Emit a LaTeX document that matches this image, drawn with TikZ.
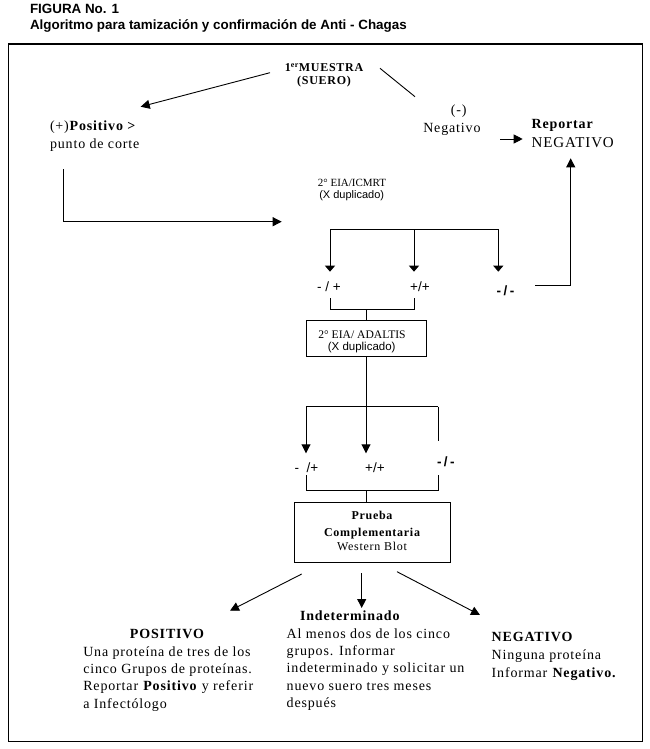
\documentclass[tikz,border=0pt]{standalone}
\usepackage{fontspec}
\setmainfont[LetterSpace=6]{Liberation Serif}
\setsansfont{Liberation Sans}
\newfontfamily\plainserif{Liberation Serif}
\newfontfamily\widesans[LetterSpace=18]{Liberation Sans}
\usetikzlibrary{arrows.meta}
\begin{document}
\begin{tikzpicture}[x=1pt,y=-1pt,
  every node/.style={inner sep=0pt, outer sep=0pt},
  body/.style={font=\fontsize{14}{17.4}\selectfont},
  bodyb/.style={font=\fontsize{14}{17.4}\selectfont\bfseries},
  ttl/.style={font=\sffamily\bfseries\fontsize{13.4}{16}\selectfont},
  smallsans/.style={font=\sffamily\fontsize{11}{13}\selectfont},
  sign/.style={font=\sffamily\fontsize{13.5}{15}\selectfont},
  signb/.style={font=\widesans\bfseries\fontsize{13.5}{15}\selectfont},
  conn/.style={line width=0.9pt},
  arr/.style={line width=0.9pt,-{Triangle[length=9pt,width=9pt]}},
  arrs/.style={line width=0.9pt,-{Triangle[length=6pt,width=10pt]}},
  boxst/.style={draw,line width=0.9pt}
]
\useasboundingbox (0,0) rectangle (649,749);
% title
\node[ttl,anchor=base west] (t1) at (30,13.3) {FIGURA No. 1};
\node[ttl,anchor=base west] (t2) at (30,29.3) {Algoritmo para tamización y confirmación de Anti - Chagas};
% frame
\draw[line width=1.3pt] (8.5,44) rectangle (642.5,741.5);

% first sample
\node[font=\fontsize{12}{12.6}\selectfont\bfseries,anchor=base] (m1) at (324,71.7) {1\textsuperscript{er}MUESTRA};
\node[font=\fontsize{12}{12.6}\selectfont\bfseries,anchor=base] (m2) at (324,84.3) {(SUERO)};
\coordinate (m1a) at (270,72.7);
\coordinate (posa) at (140.7,106.7);
\draw[arr] (m1a) -- (posa);
\coordinate (m1b) at (380,68.3);
\coordinate (nega) at (415,96.7);
\draw[conn] (m1b) -- (nega);

% positive
\node[body,anchor=base west] (pos1) at (50,130.7) {(+)\textbf{Positivo >}};
\node[body,anchor=base west] (pos2) at (50,148) {punto de corte};
% negative
\node[body,anchor=base] (neg1) at (458.7,114) {(-)};
\node[body,anchor=base west] (neg2) at (423.3,132.7) {Negativo};
\coordinate (nego) at (500,139);
\coordinate (repi) at (522.7,139);
\draw[arr] (nego) -- (repi);
\node[bodyb,anchor=base west] (rep1) at (531.7,128.3) {Reportar};
\node[font=\fontsize{15}{17}\selectfont,anchor=base west] (rep2) at (531.7,147.3) {NEGATIVO};

% path to second test
\coordinate (p1) at (63.3,169);
\coordinate (p2) at (63.3,221.7);
\coordinate (p3) at (281.7,221.7);
\draw[conn] (p1) -- (p2);
\draw[arr] (p2) -- (p3);
\node[font=\plainserif\fontsize{11}{12}\selectfont,anchor=base] (e1) at (352,186.7) {2° EIA/ICMRT};
\node[smallsans,anchor=base] (e2) at (351.7,198.3) {(X duplicado)};

% first tree
\coordinate (a0) at (330,229.3);
\coordinate (a1) at (414,229.3);
\coordinate (a2) at (498.3,229.3);
\coordinate (a0e) at (330,271.7);
\coordinate (a1e) at (414,271.7);
\coordinate (a2e) at (498.3,271.7);
\draw[conn] (a0) -- (a2);
\draw[arrs] (a0) -- (a0e);
\draw[arrs] (a1) -- (a1e);
\draw[arrs] (a2) -- (a2e);
\node[sign] (s1) at (329,287) {- / +};
\node[sign] (s2) at (420,287) {+/+};
\node[signb] (s3) at (505.5,290.7) {-/-};
\coordinate (r0) at (535,285);
\coordinate (r1) at (570.7,285);
\coordinate (r2) at (570.7,158.3);
\draw[conn] (r0) -- (r1);
\draw[arr] (r1) -- (r2);

% bracket 1
\coordinate (b0) at (330,298);
\coordinate (b1) at (330,309.3);
\coordinate (b2) at (414,309.3);
\coordinate (b3) at (414,298);
\coordinate (bm) at (366,309.3);
\draw[conn] (b0) -- (b1) -- (b2) -- (b3);
\node[boxst,minimum width=120pt,minimum height=36pt] (box1) at (366,338.7) {};
\draw[conn] (bm) -- (box1.north);
\node[font=\plainserif\fontsize{11.6}{12}\selectfont,anchor=base] (bx1a) at (362,338) {2° EIA/ ADALTIS};
\node[font=\sffamily\fontsize{11.5}{13}\selectfont,anchor=base] (bx1b) at (361.7,350) {(X duplicado)};

% second tree
\coordinate (c0) at (306,406.7);
\coordinate (c1) at (366,406.7);
\coordinate (c2) at (438.3,406.7);
\coordinate (c0e) at (306,453.3);
\coordinate (c1e) at (366,453.3);
\coordinate (c2e) at (438.3,441);
\draw[conn] (c0) -- (c2);
\draw[arr] (box1.south) -- (c1e);
\draw[arr] (c0) -- (c0e);
\draw[conn] (c2) -- (c2e);
\node[sign] (u1) at (306.5,468) {-~~/+};
\node[sign] (u2) at (375,468) {+/+};
\node[signb] (u3) at (445.8,461.7) {-/-};

% bracket 2
\coordinate (d0) at (306,475);
\coordinate (d1) at (306,490);
\coordinate (d2) at (438.3,490);
\coordinate (d3) at (438.3,475);
\coordinate (dm) at (366,490);
\draw[conn] (d0) -- (d1) -- (d2) -- (d3);
\node[boxst,minimum width=156.4pt,minimum height=59.6pt] (box2) at (372.5,532.5) {};
\draw[conn] (dm) -- (dm |- box2.north);
\node[font=\fontsize{12}{15.7}\selectfont\bfseries,anchor=base] (w1) at (372,519.3) {Prueba};
\node[font=\fontsize{12}{15.7}\selectfont\bfseries,anchor=base] (w2) at (372,536) {Complementaria};
\node[font=\fontsize{12}{15.7}\selectfont,anchor=base] (w3) at (372,550.7) {Western Blot};

% results
\coordinate (o1) at (301.7,574);
\coordinate (o1e) at (230,610.7);
\coordinate (o2) at (361.7,573);
\coordinate (o2e) at (361.7,608);
\coordinate (o3) at (397,571.7);
\coordinate (o3e) at (480,615);
\draw[arr] (o1) -- (o1e);
\draw[arr] (o2) -- (o2e);
\draw[arr] (o3) -- (o3e);

\node[bodyb,anchor=base] (pt) at (167,638.3) {POSITIVO};
\node[body,anchor=base west,align=left] (pb) at (83.3,708.3) {Una proteína de tres de los\\cinco Grupos de proteínas.\\Reportar \textbf{Positivo} y referir\\a Infectólogo};

\node[bodyb,anchor=base west] (it) at (300,620) {Indeterminado};
\node[body,anchor=base west,align=left] (ib) at (286.7,707.7) {Al menos dos de los cinco\\grupos. Informar\\indeterminado y solicitar un\\nuevo suero tres meses\\después};

\node[bodyb,anchor=base west] (nt) at (491.7,641.7) {NEGATIVO};
\node[body,anchor=base west,align=left] (nb) at (491.7,677.3) {Ninguna proteína\\Informar \textbf{Negativo.}};
\end{tikzpicture}
\end{document}
